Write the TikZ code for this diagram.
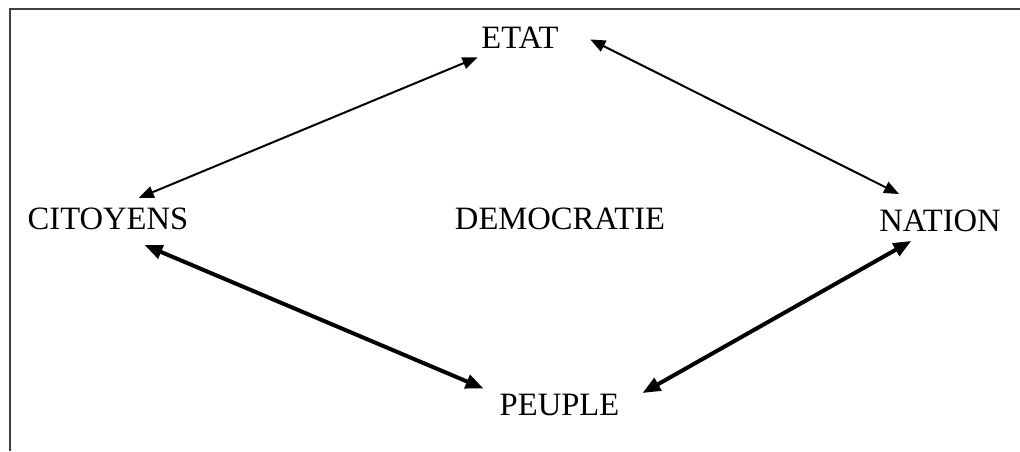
\documentclass[tikz,border=0pt]{standalone}
\usepackage{fontspec}
\setmainfont{Liberation Serif}
\usetikzlibrary{arrows.meta}
\tikzstyle{word}=[anchor=base, inner xsep=2pt, inner ysep=6pt, outer sep=0, text height=10.8pt, text depth=3pt, font=\fontsize{16.3}{19}\selectfont]
\tikzstyle{thinline}=[line width=1pt, arrows={Triangle[length=7.5pt,width=6pt]-Triangle[length=7.5pt,width=6pt]}]
\tikzstyle{thickline}=[line width=2pt, arrows={Triangle[length=9pt,width=7pt]-Triangle[length=9pt,width=7pt]}]
\tikzstyle{frameline}=[black!75, line width=1pt]
\begin{document}
\begin{tikzpicture}[x=0.5pt, y=-0.5pt]
  \useasboundingbox (0,0) rectangle (1020,451);
  \draw[frameline] (1020,8.5) -- (10,8.5) -- (10,451);
  \node[word] (Etat) at (520,48) {ETAT};
  \node[word] (Cit) at (108,229) {CITOYENS};
  \node[word] (Dem) at (560,229) {DEMOCRATIE};
  \node[word] (Nat) at (940,231) {NATION};
  \node[word] (Peu) at (559.5,415) {PEUPLE};
  \draw[thinline, shorten <=-3.3pt] (Cit.35) -- (Etat.202);
  \draw[thinline, shorten <=15.5pt, shorten >=3.75pt] (Etat.19) -- (Nat.143);
  \draw[thickline, shorten <=-2.6pt, shorten >=6.6pt] (Cit.328) -- (Peu.168);
  \draw[thickline, shorten <=-8.2pt, shorten >=11pt] (Nat.211) -- (Peu.3);
\end{tikzpicture}
\end{document}
